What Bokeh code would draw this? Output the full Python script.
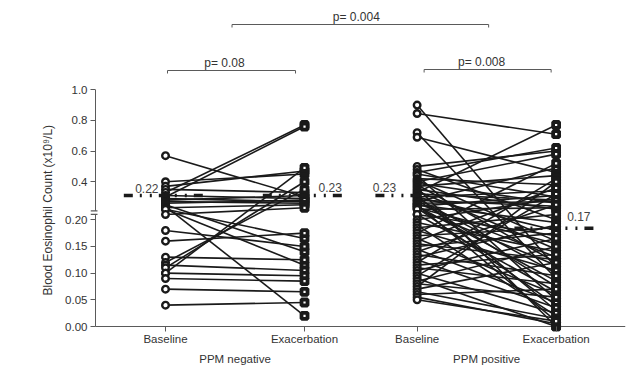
import numpy as np
from bokeh.plotting import figure
from bokeh.models import ColumnDataSource, FixedTicker, LinearAxis, Range1d, Title
from bokeh.core.properties import value
from bokeh.embed import file_html
from bokeh.resources import INLINE

# ---------------- data ----------------
groups = ["PPM negative", "PPM positive"]
timepoints = ["Baseline", "Exacerbation"]

neg_baseline = [0.57, 0.40, 0.37, 0.35, 0.33, 0.31, 0.30, 0.29, 0.28, 0.27, 0.26, 0.25, 0.24, 0.23,
                0.22, 0.22, 0.21, 0.18, 0.16, 0.13, 0.12, 0.115, 0.11, 0.10, 0.10, 0.09, 0.07, 0.04]
neg_exacerbation = [0.30, 0.45, 0.47, 0.33, 0.77, 0.29, 0.76, 0.27, 0.31, 0.26, 0.28, 0.14, 0.02, 0.25,
                    0.115, 0.165, 0.23, 0.15, 0.175, 0.125, 0.35, 0.105, 0.40, 0.095, 0.49, 0.085, 0.065, 0.045]

pos_baseline = [0.90, 0.845, 0.72, 0.69, 0.50, 0.48, 0.46, 0.45, 0.44, 0.42, 0.41, 0.40, 0.39, 0.38,
                0.37, 0.36, 0.35, 0.34, 0.33, 0.32, 0.31, 0.30, 0.30, 0.29, 0.28, 0.28, 0.27, 0.26,
                0.26, 0.25, 0.25, 0.24, 0.24, 0.23, 0.23, 0.22, 0.22, 0.21, 0.21, 0.20, 0.195, 0.19,
                0.185, 0.18, 0.175, 0.17, 0.165, 0.16, 0.155, 0.15, 0.145, 0.14, 0.135, 0.13, 0.125,
                0.12, 0.115, 0.11, 0.105, 0.10, 0.095, 0.09, 0.085, 0.08, 0.075, 0.07, 0.065, 0.06,
                0.055, 0.05]
pos_exacerbation = [0.11, 0.71, 0.09, 0.46, 0.60, 0.20, 0.62, 0.30, 0.05, 0.38, 0.16, 0.58, 0.26, 0.12,
                    0.44, 0.0, 0.22, 0.145, 0.77, 0.28, 0.03, 0.18, 0.34, 0.10, 0.24, 0.075, 0.49, 0.13,
                    0.27, 0.01, 0.195, 0.085, 0.31, 0.155, 0.04, 0.23, 0.115, 0.17, 0.065, 0.29, 0.14,
                    0.02, 0.21, 0.105, 0.52, 0.185, 0.06, 0.36, 0.125, 0.175, 0.045, 0.25, 0.095, 0.19,
                    0.035, 0.42, 0.135, 0.08, 0.165, 0.025, 0.32, 0.0, 0.15, 0.055, 0.40, 0.12, 0.015,
                    0.07, 0.005, 0.01]

median_labels = ["0.22", "0.23", "0.23", "0.17"]
median_drawn_at = [0.31, 0.31, 0.31, 0.184]   # where the median bars sit on the axis in the picture

p_labels = ["p= 0.08", "p= 0.008", "p= 0.004"]

lower_ticks = [0.0, 0.05, 0.10, 0.15, 0.20]
lower_tick_labels = ["0.00", "0.05", "0.10", "0.15", "0.20"]
upper_ticks = [0.4, 0.6, 0.8, 1.0]
upper_tick_labels = ["0.4", "0.6", "0.8", "1.0"]

y_title = "Blood Eosinophil Count (x10⁹/L)"

# ---------------- broken (two-segment) y scale ----------------
BREAK = 0.21
LOW_K = 533.5
HIGH_K = 153.3
GAP = 3.6


def seg(v):
    v = np.asarray(v, dtype=float)
    return np.where(v <= BREAK, v * LOW_K, BREAK * LOW_K + GAP + (v - BREAK) * HIGH_K)


XPOS = [1.0, 2.0, 2.81, 3.81]          # Baseline/Exacerbation of each group
GROUP_X = [(XPOS[0] + XPOS[1]) / 2, (XPOS[2] + XPOS[3]) / 2]
PX = 1 / 139.0                          # x data units per pixel
X0, X1 = 0.4604, 4.309
AX = X0 + 5 * PX                        # position of the drawn y axis line

FONT = "Liberation Sans"
INK = "#1a1a1a"
AXC = "#5a5a5a"
TXT = "#333333"

p = figure(width=640, height=374, output_backend="svg", toolbar_location=None,
           x_range=Range1d(X0, X1), y_range=Range1d(-5, 318),
           x_axis_type=None, y_axis_type=None,
           min_border_left=90, min_border_right=15, min_border_top=8, min_border_bottom=43)
p.outline_line_color = None
p.background_fill_color = "white"

# ---- axes ----
yt = [float(v) for v in seg(lower_ticks + upper_ticks)]
ylab = lower_tick_labels + upper_tick_labels
yaxis = LinearAxis(ticker=FixedTicker(ticks=yt, minor_ticks=[]),
                   major_label_overrides={v: l for v, l in zip(yt, ylab)})
yaxis.axis_line_color = None
yaxis.major_tick_in = 5
yaxis.major_tick_out = 0
yaxis.major_tick_line_color = AXC
yaxis.minor_tick_line_color = None
yaxis.major_label_standoff = 3
yaxis.major_label_text_font = FONT
yaxis.major_label_text_font_size = "11.5px"
yaxis.major_label_text_color = TXT
p.add_layout(yaxis, "left")

# y axis title: a left-side title placed outside the tick labels, aligned along the drawn axis
t = Title(text=y_title, align="left", offset=36, text_font=FONT, text_font_size="12px",
          text_font_style="normal", text_color=TXT, standoff=16)
p.add_layout(t, "left")

xaxis = LinearAxis(ticker=FixedTicker(ticks=XPOS, minor_ticks=[]),
                   major_label_overrides={x: l for x, l in zip(XPOS, timepoints * 2)})
xaxis.axis_line_color = None
xaxis.major_tick_in = 5
xaxis.major_tick_out = 0
xaxis.major_tick_line_color = AXC
xaxis.minor_tick_line_color = None
xaxis.major_label_standoff = 1
xaxis.major_label_text_font = FONT
xaxis.major_label_text_font_size = "11.5px"
xaxis.major_label_text_color = TXT
p.add_layout(xaxis, "below")

gaxis = LinearAxis(ticker=FixedTicker(ticks=GROUP_X, minor_ticks=[]),
                   major_label_overrides={x: l for x, l in zip(GROUP_X, groups)})
gaxis.axis_line_color = None
gaxis.major_tick_line_color = None
gaxis.minor_tick_line_color = None
gaxis.major_tick_in = 0
gaxis.major_tick_out = 0
gaxis.major_label_standoff = 5
gaxis.major_label_text_font = FONT
gaxis.major_label_text_font_size = "11.5px"
gaxis.major_label_text_color = TXT
p.add_layout(gaxis, "below")

# drawn axis lines with the break
low_top = float(seg(BREAK))
up_bot = low_top + GAP
p.segment(x0=[AX, AX, AX], y0=[0, up_bot, 0], x1=[AX, AX, X1], y1=[low_top, float(seg(1.0)), 0],
          line_color=AXC, line_width=1)
p.segment(x0=[AX - 5 * PX] * 2, y0=[low_top, up_bot], x1=[AX + 2 * PX] * 2, y1=[low_top, up_bot],
          line_color=AXC, line_width=1.2)

# ---- paired lines ----
xs, ys = [], []
for b, e in zip(neg_baseline, neg_exacerbation):
    xs.append([XPOS[0], XPOS[1]]); ys.append([float(seg(b)), float(seg(e))])
for b, e in zip(pos_baseline, pos_exacerbation):
    xs.append([XPOS[2], XPOS[3]]); ys.append([float(seg(b)), float(seg(e))])
p.multi_line(xs=xs, ys=ys, line_color=INK, line_width=1.6)

# ---- markers ----
base_src = ColumnDataSource(dict(
    x=[XPOS[0]] * len(neg_baseline) + [XPOS[2]] * len(pos_baseline),
    y=list(seg(neg_baseline)) + list(seg(pos_baseline))))
exac_src = ColumnDataSource(dict(
    x=[XPOS[1]] * len(neg_exacerbation) + [XPOS[3]] * len(pos_exacerbation),
    y=list(seg(neg_exacerbation)) + list(seg(pos_exacerbation))))
p.scatter("x", "y", source=base_src, marker="circle", size=6.6, line_width=2.4,
          fill_color="white", line_color=INK)
p.scatter("x", "y", source=exac_src, marker="square", size=6.0, line_width=3.8,
          fill_color="white", line_color=INK)

# ---- medians ----
my = [float(v) for v in seg(median_drawn_at)]
p.segment(x0=[x - 0.3 for x in XPOS], x1=[x + 0.3 for x in XPOS], y0=my, y1=my,
          line_color=INK, line_width=3.5, line_dash="9 7 2 8 2 7")
med_src = ColumnDataSource(dict(x=XPOS, y=my, text=median_labels,
                                align=["right", "left", "right", "left"],
                                xo=[-7, 14, -21, 11], yo=[-7, -8, -8, -12]))
p.text("x", "y", text="text", source=med_src, text_align="align", text_baseline="middle",
       x_offset="xo", y_offset="yo", text_font=value(FONT), text_font_size="12px",
       text_color="#444444")

# ---- significance brackets ----
bx0 = [XPOS[0] + 2 * PX, XPOS[2] + 7 * PX, GROUP_X[0] - 3 * PX]
bx1 = [XPOS[1] - 9 * PX, XPOS[3] - 5 * PX, GROUP_X[1] + 2 * PX]
by = [256, 257, 302]
bxs = [[a, a, b, b] for a, b in zip(bx0, bx1)]
bys = [[y - 3, y, y, y - 3] for y in by]
p.multi_line(xs=bxs, ys=bys, line_color=AXC, line_width=1)
p_src = ColumnDataSource(dict(x=[(a + b) / 2 for a, b in zip(bx0, bx1)], y=[y + 8 for y in by],
                              text=p_labels, xo=[-7, -6, -4]))
p.text("x", "y", text="text", source=p_src, x_offset="xo", text_align="center",
       text_baseline="middle", text_font=value(FONT), text_font_size="12px", text_color=TXT)

open("out.html", "w").write(file_html(p, INLINE))
